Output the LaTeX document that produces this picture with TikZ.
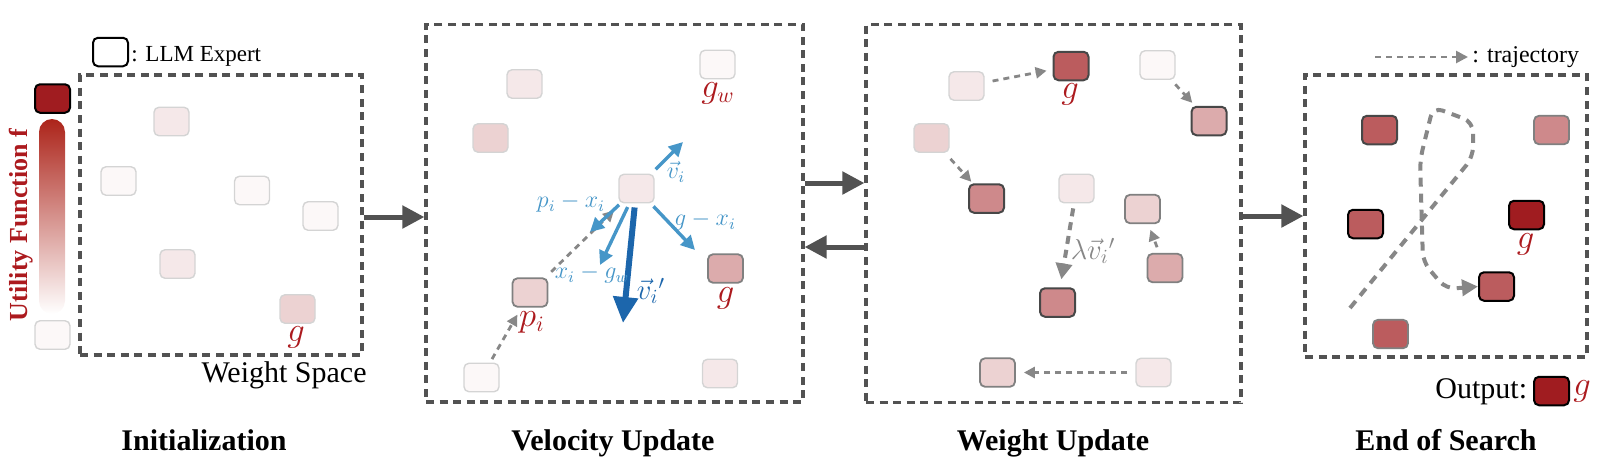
\documentclass[tikz,border=0pt]{standalone}
\usepackage{fontspec}
\setmainfont{Liberation Serif}
\usetikzlibrary{arrows.meta,calc}
\definecolor{R}{RGB}{160,28,32}
\definecolor{RT}{RGB}{172,26,30}
\definecolor{RB}{RGB}{172,36,26}
\definecolor{BL}{RGB}{70,150,200}
\definecolor{BD}{RGB}{28,102,172}
\begin{document}
\begin{tikzpicture}[x=0.5pt,y=-0.5pt,
  ex/.style={rounded corners=2.5pt, minimum width=17.5pt, minimum height=14.25pt, inner sep=0pt, line width=0.7pt},
  sl/.style={draw=black!17},
  sg/.style={draw=black!50, line width=0.9pt},
  sd/.style={draw=black!72, line width=1pt},
  sk/.style={draw=black, line width=1pt},
  f0/.style={fill=R!3},
  f1/.style={fill=R!10},
  f2/.style={fill=R!20},
  f3/.style={fill=R!37},
  f4/.style={fill=R!52},
  f5/.style={fill=R!72},
  f6/.style={fill=R},
  panel/.style={draw=black!68, line width=1.6pt, dash pattern=on 4pt off 2.8pt, inner sep=0pt},
  parr/.style={-{Triangle[length=11pt,width=11pt]}, line width=2.5pt, draw=black!68},
  barr/.style={-{Triangle[length=7pt,width=7pt]}, line width=1.7pt, draw=BL},
  bdarr/.style={-{Triangle[length=13pt,width=12pt]}, line width=3pt, draw=BD},
  garr/.style={-{Triangle[length=5.5pt,width=5.5pt]}, line width=1.4pt, draw=black!47, dash pattern=on 3pt off 2.5pt},
  glarr/.style={-{Triangle[length=8pt,width=8pt]}, line width=2pt, draw=black!47, dash pattern=on 4pt off 3pt},
  traj/.style={-{Triangle[length=8pt,width=8pt]}, line width=2pt, draw=black!47, dash pattern=on 4.5pt off 3.5pt},
  lab/.style={text=RT, inner sep=0pt, font=\fontsize{16}{18}\selectfont},
  blab/.style={text=BL, inner sep=0pt, font=\fontsize{11.5}{13}\selectfont},
  txt/.style={inner sep=0pt, font=\fontsize{11.5}{13}\selectfont},
  txtb/.style={inner sep=0pt, font=\fontsize{15}{17}\selectfont},
  title/.style={inner sep=0pt, font=\bfseries\fontsize{15}{17}\selectfont}
]
\useasboundingbox (0,0) rectangle (1606,468);

% panels
\node[panel, minimum width=141pt, minimum height=140pt] (P1) at (221,215) {};
\node[panel, minimum width=188.5pt, minimum height=188.75pt] (P2) at (614.5,213.25) {};
\node[panel, minimum width=187.5pt, minimum height=189pt] (P3) at (1053.5,213.75) {};
\node[panel, minimum width=141pt, minimum height=141pt] (P4) at (1446,216) {};

% legend
\node[ex, sk, fill=white] (lg) at (110.5,52) {};
\node[txt, anchor=base west] (lgt) at (131,61) {: LLM Expert};

% utility function
\node[ex, sk, f6] (uhi) at (52.5,98.5) {};
\shade[top color=RB, bottom color=white, rounded corners=6.5pt] (39,119) rectangle (65,314);
\node[ex, sl, f0] (ulo) at (52.5,335) {};
\node[rotate=90, text=RT, inner sep=0pt, font=\bfseries\fontsize{13}{15}\selectfont] (uf) at (21,225) {Utility Function f};

% panel 1
\node[ex, sl, f1] (a1) at (171.5,121.5) {};
\node[ex, sl, f0] (a2) at (118.5,181) {};
\node[ex, sl, f0] (a3) at (252,190.5) {};
\node[ex, sl, f0] (a4) at (320.5,216) {};
\node[ex, sl, f1] (a5) at (177.5,264) {};
\node[ex, sl, f2] (a6) at (297.5,309) {};
\node[lab] (a6g) at (296,337) {$g$};
\node[txtb, anchor=base east] (ws) at (367,382) {Weight Space};

% panel 2
\node[ex, sl, f1] (b1) at (524.5,84) {};
\node[ex, sl, f2] (b2) at (490.5,138) {};
\node[ex, sl, f0] (b3) at (717.5,64.5) {};
\node[lab] (b3g) at (718,93) {$g_w$};
\node[ex, sl, f1] (v0) at (636.5,188.5) {};
\node[ex, sg, f3] (b5) at (725.5,268.5) {};
\node[lab] (b5g) at (725.5,298) {$g$};
\node[ex, sg, f2] (pb) at (530,292.5) {};
\node[lab] (pbl) at (532,322) {$p_i$};
\node[ex, sl, f0] (b7) at (481.5,377.5) {};
\node[ex, sl, f1] (b8) at (720,373.5) {};

\draw[garr, shorten <=2pt, shorten >=4pt] (b7) -- (pb);
\draw[garr, shorten <=4pt, shorten >=5pt] (pb) -- (v0);

\coordinate (tv) at (683,142);
\coordinate (tp) at (590,232);
\coordinate (tw) at (600,265);
\coordinate (tg) at (695,250);
\coordinate (tn) at (623,323);
\draw[barr, shorten <=3pt] (v0) -- (tv);
\draw[barr, shorten <=1pt] (v0) -- (tp);
\draw[barr, shorten <=2pt] (v0) -- (tw);
\draw[barr, shorten <=2pt] (v0) -- (tg);
\draw[bdarr, shorten <=2pt] (v0) -- (tn);
\node[blab] (lv) at (676,172) {$\vec{v}_i$};
\node[blab] (lp) at (571,203) {$p_i - x_i$};
\node[blab] (lgx) at (705,221) {$g - x_i$};
\node[blab] (lxg) at (592,274) {$x_i - g_w$};
\node[text=BD, inner sep=0pt, font=\fontsize{14.5}{16}\selectfont] (lvn) at (651,291) {$\vec{v}_i{}'$};

% panel 3
\node[ex, sl, f1] (c1) at (966.5,86) {};
\node[ex, sd, f5] (cg) at (1071,66) {};
\node[lab] (cgl) at (1070,94) {$g$};
\node[ex, sl, f0] (c3) at (1157.5,65) {};
\node[ex, sd, f3] (c4) at (1209,121) {};
\node[ex, sl, f2] (c5) at (931.5,138) {};
\node[ex, sd, f4] (c6) at (986.5,198.5) {};
\node[ex, sl, f1] (c7) at (1076.5,188.5) {};
\node[ex, sg, f2] (c8) at (1142.5,209) {};
\node[ex, sg, f3] (c9) at (1165,268) {};
\node[ex, sd, f4] (c10) at (1057.5,302.5) {};
\node[ex, sg, f2] (c11) at (997.5,372.5) {};
\node[ex, sl, f1] (c12) at (1153.5,372.5) {};

\draw[garr, shorten <=4pt, shorten >=3pt] (c1) -- (cg);
\draw[garr, shorten <=3pt, shorten >=2pt] (c3) -- (c4);
\draw[garr, shorten <=4pt, shorten >=1pt] (c5) -- (c6);
\draw[glarr, shorten <=2.5pt, shorten >=4pt] (c7) -- (c10);
\draw[garr, shorten <=3pt, shorten >=3pt] (c9) -- (c8);
\draw[garr, shorten <=4pt, shorten >=4pt] (c12) -- (c11);
\node[text=black!47, inner sep=0pt, font=\fontsize{14}{16}\selectfont] (ll) at (1093,251) {$\lambda\vec{v}_i{}'$};

% panel 4
\node[ex, sd, f5] (d1) at (1379.5,130) {};
\node[ex, sg, f4] (d2) at (1551.5,130) {};
\node[ex, sk, f5] (d3) at (1365.5,224) {};
\node[ex, sk, f6] (d4) at (1526.5,215) {};
\node[lab] (d4g) at (1525.5,244) {$g$};
\node[ex, sk, f5] (d5) at (1496.5,286.5) {};
\node[ex, sg, f5] (d6) at (1390.5,334) {};

\coordinate (tr0) at (1350,308);
\draw[traj, rounded corners=5pt] (tr0) -- (1473,157) -- (1473,122) -- (1433,107) -- (1420,160) -- (1423,262) -- (1446,289) -- (d5.west);

% trajectory legend
\coordinate (lt0) at (1375,57);
\coordinate (lt1) at (1468,57);
\draw[-{Triangle[length=6pt,width=6pt]}, line width=1.3pt, draw=black!47, dash pattern=on 3pt off 2.5pt] (lt0) -- (lt1);
\node[txt, font=\fontsize{12}{14}\selectfont, anchor=base west] (ltt) at (1472,62) {: trajectory};

% output
\node[txtb, anchor=base west] (out) at (1435,398) {Output:};
\node[ex, sk, f6] (ob) at (1551.5,391) {};
\node[lab] (obg) at (1582,391) {$g$};

% panel arrows
\coordinate (y12) at (0,217);
\coordinate (y23) at (0,183);
\coordinate (y32) at (0,247);
\coordinate (y34) at (0,216);
\draw[parr] (P1.east |- y12) -- (P2.west |- y12);
\draw[parr] (P2.east |- y23) -- (P3.west |- y23);
\draw[parr] (P3.west |- y32) -- (P2.east |- y32);
\draw[parr] (P3.east |- y34) -- (P4.west |- y34);

% titles
\node[title, anchor=base] (t1) at (204,450) {Initialization};
\node[title, anchor=base] (t2) at (613,450) {Velocity Update};
\node[title, anchor=base] (t3) at (1053,450) {Weight Update};
\node[title, anchor=base] (t4) at (1446,450) {End of Search};
\end{tikzpicture}
\end{document}
